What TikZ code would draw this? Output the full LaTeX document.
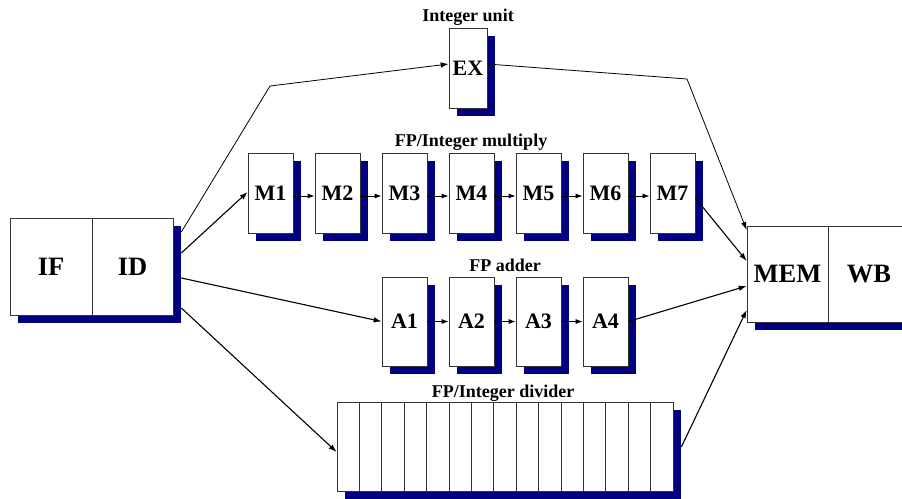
\documentclass[tikz,border=0pt]{standalone}
\usepackage{fontspec}
\setmainfont{Liberation Serif}
\usetikzlibrary{shadows,arrows.meta,calc}
\definecolor{navyblue}{RGB}{0,0,128}
\begin{document}
\begin{tikzpicture}[x=1pt,y=-1pt,
  box/.style={draw=black!80, line width=0.7pt, fill=white, inner sep=0pt,
    font=\bfseries\fontsize{22}{25}\selectfont,
    drop shadow={shadow xshift=8pt, shadow yshift=-8pt, fill=navyblue, opacity=1}},
  big/.style={box, font=\bfseries\fontsize{26.5}{29}\selectfont},
  lbl/.style={font=\bfseries\fontsize{18}{21}\selectfont, inner sep=0pt, anchor=base},
  conn/.style={line width=1.1pt, -{Latex[length=8pt,width=5.5pt]}},
  thinconn/.style={line width=0.8pt, -{Latex[length=8pt,width=5.5pt]}},
  chain/.style={line width=1pt, -{Latex[length=7pt,width=5pt]}}
]
\useasboundingbox (0,0) rectangle (902,498);

% IF / ID
\node[big, minimum width=82pt, minimum height=97pt] (IF) at (51,266.5) {IF};
\node[big, minimum width=81pt, minimum height=97pt] (ID) at (132.5,266.5) {ID};

% Integer unit
\node[box, minimum width=38pt, minimum height=80pt] (EX) at (468,68) {EX};
\node[lbl] (tEX) at (468,21) {Integer unit};

% Multiplier
\foreach \i in {1,...,7}
  \node[box, minimum width=45pt, minimum height=80pt] (M\i) at ({270.5+67*(\i-1)},193) {M\i};
\node[lbl] (tM) at (471,146) {FP/Integer multiply};
\foreach \i [evaluate=\i as \j using int(\i+1)] in {1,...,6}
  \draw[chain] ($(M\i.east)+(0,3)$) -- ($(M\j.west)+(0,3)$);

% Adder
\foreach \i in {1,...,4}
  \node[box, minimum width=45pt, minimum height=89pt] (A\i) at ({404.5+67*(\i-1)},321.5) {A\i};
\node[lbl] (tA) at (505,271) {FP adder};
\foreach \i [evaluate=\i as \j using int(\i+1)] in {1,...,3}
  \draw[chain] (A\i.east) -- (A\j.west);

% Divider
\foreach \k in {1,...,15}
  \node[box, minimum width=22.4pt, minimum height=89pt] (D\k) at ({337+22.4*(\k-0.5)},446.5) {};
\node[lbl] (tD) at (503,397) {FP/Integer divider};

% MEM / WB
\node[big, minimum width=81pt, minimum height=96pt] (MEM) at (787.5,274) {MEM};
\node[big, minimum width=82pt, minimum height=96pt] (WB) at (869,274) {WB};

% corners
\coordinate (c1) at (270,86);
\coordinate (c2) at (687,79);

% connectors from ID
\draw[thinconn] ($(ID.east)+(8,-34.5)$) -- (c1) -- ($(EX.west)+(0,-4)$);
\draw[conn] ($(ID.east)+(8,-13.5)$) -- ($(M1.west)+(0,-1)$);
\draw[conn] ($(ID.east)+(8,11.5)$) -- (A1.west);
\draw[conn] ($(ID.east)+(8,41.5)$) -- ($(D1.west)+(0,5.5)$);

% connectors to MEM
\draw[thinconn] ($(EX.east)+(0,-4)$) -- (c2) -- ($(MEM.west)+(0,-44)$);
\draw[conn] ($(M7.east)+(0,5)$) -- ($(MEM.west)+(0,-13)$);
\draw[conn] (A4.east) -- ($(MEM.west)+(0,12)$);
\draw[conn] ($(D15.east)+(8,0.5)$) -- ($(MEM.west)+(0,36)$);
\end{tikzpicture}
\end{document}
